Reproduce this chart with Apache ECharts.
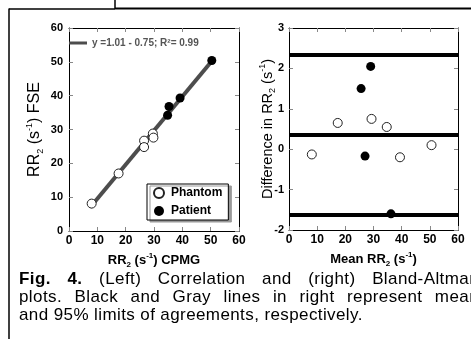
<!DOCTYPE html>
<html>
<head>
<meta charset="utf-8">
<script src="https://cdn.jsdelivr.net/npm/echarts@6/dist/echarts.min.js"></script>
<style>
html, body { margin: 0; padding: 0; overflow: hidden; background: #fff; }
#chart { position: absolute; left: 0; top: 0; width: 471px; height: 339px; }
#caption { position: absolute; left: 19px; top: 270px; width: 460px; font: 17px 'Liberation Sans', Arial, sans-serif; letter-spacing: 0.4px; line-height: 18px; color: #000; }
#caption div { text-align: justify; text-align-last: justify; }
#caption div.last { text-align-last: left; }
</style>
</head>
<body>
<div id="chart"></div>
<div id="caption">
  <div><b>Fig. 4.</b> (Left) Correlation and (right) Bland-Altman</div>
  <div>plots. Black and Gray lines in right represent mean</div>
  <div class="last">and 95% limits of agreements, respectively.</div>
</div>
<script>
// left: correlation, CPMG vs FSE
var phantomCpmg = [8.0, 17.5, 26.5, 26.5, 29.6, 29.8];
var phantomFse  = [8.1, 17.0, 26.7, 24.8, 28.8, 27.6];
var patientCpmg = [50.4, 39.2, 35.3, 34.8];
var patientFse  = [50.4, 39.3, 36.8, 34.2];
var fitX = [7.5, 50.5];
var fitY = [7.0, 50.3];
var fitName = 'y =1.01 - 0.75; R²= 0.99';

// right: Bland-Altman
var phantomMean = [8.1, 17.3, 29.3, 34.7, 39.4, 50.6];
var phantomDiff = [-0.13, 0.65, 0.75, 0.55, -0.2, 0.1];
var patientMean = [29.0, 25.6, 27.0, 36.2];
var patientDiff = [2.05, 1.5, -0.17, -1.6];
var baLines = [2.33, 0.35, -1.63];

var font = "'Liberation Sans', Arial, sans-serif";

function pairs(xs, ys) {
    return xs.map(function (x, i) { return [x, ys[i]]; });
}

var chart = echarts.init(document.getElementById('chart'));

var tickStyle = { show: true, inside: true, length: 4, lineStyle: { color: '#888' } };
var lineBlack = { show: true, onZero: false, lineStyle: { color: '#000', width: 1 } };
var xLabel = { fontFamily: font, fontWeight: 'bold', fontSize: 12, color: '#000', margin: 4 };
var yLabel = { fontFamily: font, fontWeight: 'bold', fontSize: 11, color: '#000' };
var subSup = {
    sub: { fontSize: 8, lineHeight: 8, verticalAlign: 'bottom' },
    sup: { fontSize: 8, lineHeight: 8, verticalAlign: 'top' }
};
var subSupBig = {
    sub: { fontSize: 9, lineHeight: 9, verticalAlign: 'bottom' },
    sup: { fontSize: 9, lineHeight: 9, verticalAlign: 'top' }
};

function sideAxis(grid, pos, min, max, interval) {
    return {
        gridIndex: grid, type: 'value', position: pos, min: min, max: max, interval: interval,
        axisLine: lineBlack, axisTick: tickStyle, axisLabel: { show: false }, splitLine: { show: false }
    };
}

var series = [
    {
        name: fitName, type: 'line', xAxisIndex: 0, yAxisIndex: 0,
        data: pairs(fitX, fitY), symbol: 'none', z: 1,
        itemStyle: { color: '#4d4d4d' },
        lineStyle: { color: '#4d4d4d', width: 4 }
    },
    {
        name: 'Phantom', type: 'scatter', xAxisIndex: 0, yAxisIndex: 0,
        data: pairs(phantomCpmg, phantomFse), symbolSize: 9, z: 3,
        itemStyle: { color: '#fff', borderColor: '#222', borderWidth: 1, opacity: 1 }
    },
    {
        name: 'Patient', type: 'scatter', xAxisIndex: 0, yAxisIndex: 0,
        data: pairs(patientCpmg, patientFse), symbolSize: 9, z: 3,
        itemStyle: { color: '#000', opacity: 1 }
    },
    {
        name: 'Phantom', type: 'scatter', xAxisIndex: 2, yAxisIndex: 2,
        data: pairs(phantomMean, phantomDiff), symbolSize: 9, z: 3,
        itemStyle: { color: '#fff', borderColor: '#222', borderWidth: 1, opacity: 1 }
    },
    {
        name: 'Patient', type: 'scatter', xAxisIndex: 2, yAxisIndex: 2,
        data: pairs(patientMean, patientDiff), symbolSize: 9, z: 3,
        itemStyle: { color: '#000', opacity: 1 }
    }
];
baLines.forEach(function (v) {
    series.push({
        type: 'line', xAxisIndex: 2, yAxisIndex: 2, symbol: 'none', z: 1, silent: true,
        data: [[0, v], [60, v]],
        lineStyle: { color: '#000', width: 4 }
    });
});

chart.setOption({
    animation: false,
    backgroundColor: '#fff',
    textStyle: { fontFamily: font },
    grid: [
        { left: 69, top: 28, width: 170, height: 203 },
        { left: 289, top: 28, width: 169, height: 202 }
    ],
    legend: [{
        data: ['Phantom', 'Patient'],
        orient: 'vertical', left: 147, top: 184,
        padding: [3, 6, 3, 6], itemGap: 6, itemWidth: 14, itemHeight: 10,
        icon: 'circle',
        backgroundColor: '#fff', borderColor: '#000', borderWidth: 1,
        shadowColor: '#999', shadowOffsetX: 3, shadowOffsetY: 2, shadowBlur: 0,
        selectedMode: false,
        textStyle: { fontFamily: font, fontWeight: 'bold', fontSize: 12, color: '#000' }
    }, {
        data: [{ name: fitName, icon: 'rect' }],
        left: 69, top: 38, padding: 0, itemWidth: 18, itemHeight: 3,
        selectedMode: false,
        textStyle: { fontFamily: font, fontWeight: 'bold', fontSize: 10, color: '#555' }
    }],
    xAxis: [
        {
            gridIndex: 0, type: 'value', position: 'bottom', min: 0, max: 60, interval: 10,
            axisLine: lineBlack, axisTick: tickStyle, splitLine: { show: false },
            axisLabel: xLabel,
            name: 'RR{sub|2} (s{sup|-1}) CPMG', nameLocation: 'middle', nameGap: 17,
            nameTextStyle: { fontFamily: font, fontWeight: 'bold', fontSize: 13, lineHeight: 17, color: '#000', rich: subSup }
        },
        sideAxis(0, 'top', 0, 60, 10),
        {
            gridIndex: 1, type: 'value', position: 'bottom', min: 0, max: 60, interval: 10,
            axisLine: lineBlack, axisTick: tickStyle, splitLine: { show: false },
            axisLabel: xLabel,
            name: 'Mean RR{sub|2} (s{sup|-1})', nameLocation: 'middle', nameGap: 17,
            nameTextStyle: { fontFamily: font, fontWeight: 'bold', fontSize: 13, lineHeight: 17, color: '#000', rich: subSup }
        },
        sideAxis(1, 'top', 0, 60, 10)
    ],
    yAxis: [
        {
            gridIndex: 0, type: 'value', position: 'left', min: 0, max: 60, interval: 10,
            axisLine: lineBlack, axisTick: tickStyle, splitLine: { show: false },
            axisLabel: Object.assign({ margin: 6 }, yLabel),
            name: 'RR{sub|2} (s{sup|-1}) FSE', nameLocation: 'middle', nameGap: 24,
            nameTextStyle: { fontFamily: font, fontSize: 16, lineHeight: 20, color: '#000', rich: subSupBig }
        },
        sideAxis(0, 'right', 0, 60, 10),
        {
            gridIndex: 1, type: 'value', position: 'left', min: -2, max: 3, interval: 1,
            axisLine: lineBlack, axisTick: tickStyle, splitLine: { show: false },
            axisLabel: Object.assign({ margin: 5 }, yLabel),
            name: 'Difference in RR{sub|2} (s{sup|-1})', nameLocation: 'middle', nameGap: 12,
            nameMoveOverlap: false,
            nameTextStyle: { fontFamily: font, fontSize: 14.5, lineHeight: 19, color: '#000', rich: subSupBig }
        },
        sideAxis(1, 'right', -2, 3, 1)
    ],
    series: series,
    graphic: [
        { type: 'line', shape: { x1: 9, y1: 9, x2: 115, y2: 9 }, style: { stroke: '#000', lineWidth: 1.5 } },
        { type: 'line', shape: { x1: 115, y1: 8.5, x2: 471, y2: 8.5 }, style: { stroke: '#000', lineWidth: 2 } },
        { type: 'line', shape: { x1: 115, y1: 0, x2: 115, y2: 9 }, style: { stroke: '#000', lineWidth: 1.5 } },
        { type: 'line', shape: { x1: 9, y1: 8.5, x2: 9, y2: 339 }, style: { stroke: '#000', lineWidth: 1.5 } }
    ]
});
</script>
</body>
</html>
